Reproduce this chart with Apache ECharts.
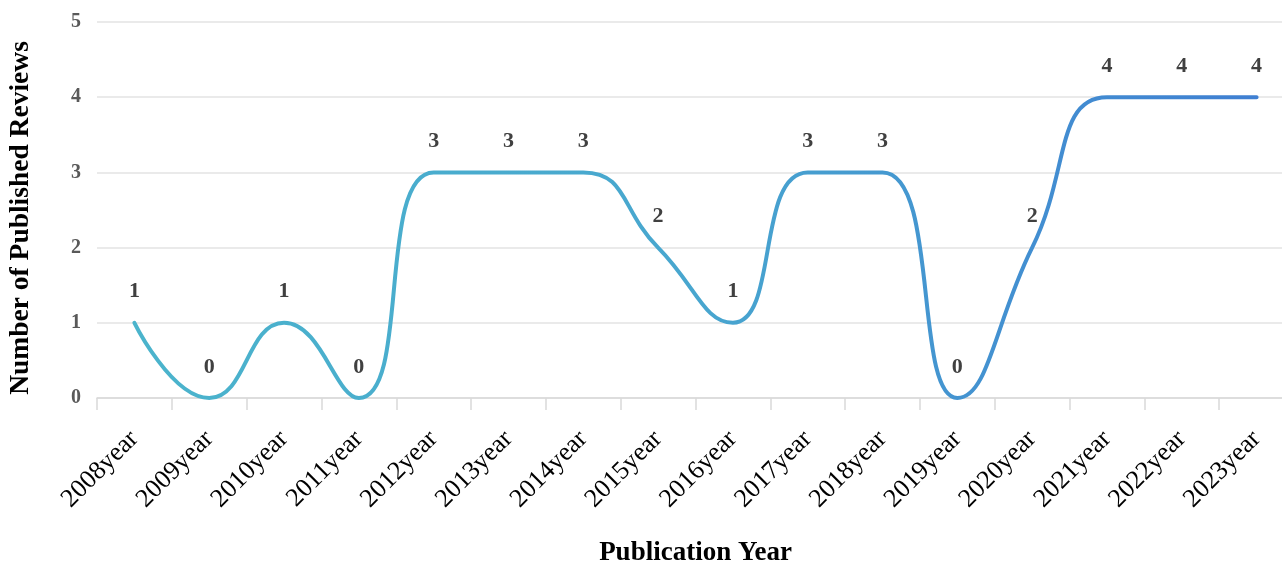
<!DOCTYPE html>
<html><head><meta charset="utf-8">
<script src="https://cdn.jsdelivr.net/npm/echarts@6/dist/echarts.min.js"></script>
<style>html,body{margin:0;padding:0;background:#fff}#c{width:1282px;height:562px}</style>
</head><body><div id="c"></div>
<script>
const years = ['2008year','2009year','2010year','2011year','2012year','2013year','2014year','2015year','2016year','2017year','2018year','2019year','2020year','2021year','2022year','2023year'];
const reviews = [1,0,1,0,3,3,3,2,1,3,3,0,2,4,4,4];
const yTicks = {min:0, max:5, interval:1};
const serif = '"Liberation Serif","Times New Roman",serif';
const chart = echarts.init(document.getElementById('c'));
chart.setOption({
  animation:false,
  grid:{left:97, right:-12, top:22, bottom:164, containLabel:false, outerBoundsMode:'none'},
  xAxis:{
    type:'category', data:years, boundaryGap:true,
    name:'Publication Year', nameLocation:'middle', nameGap:142,
    nameTextStyle:{fontFamily:serif, fontWeight:'bold', fontSize:27, color:'#000'},
    axisLine:{lineStyle:{color:'#d9d9d9', width:1.5}},
    axisTick:{show:true, length:12, lineStyle:{color:'#d9d9d9', width:1.5}},
    axisLabel:{rotate:45, fontFamily:serif, fontSize:26, color:'#000', margin:37, interval:0}
  },
  yAxis:{
    type:'value', min:yTicks.min, max:yTicks.max, interval:yTicks.interval,
    name:'Number of Published Reviews', nameLocation:'middle', nameGap:62,
    nameTextStyle:{fontFamily:serif, fontWeight:'bold', fontSize:27.5, color:'#000', padding:[0,16,0,0]},
    axisLine:{show:false}, axisTick:{show:false},
    axisLabel:{fontFamily:serif, fontWeight:'bold', fontSize:20, color:'#595959', margin:16},
    splitLine:{lineStyle:{color:'#e3e3e3', width:1.5}}
  },
  series:[{
    type:'line', data:reviews, smooth:0.5, showSymbol:true, symbol:'circle', symbolSize:2,
    itemStyle:{color:'rgba(0,0,0,0)', borderWidth:0},
    lineStyle:{width:4, cap:'round', color:{type:'linear', x:0, y:0, x2:1, y2:0, colorStops:[
      {offset:0, color:'#4bb4cc'}, {offset:0.5, color:'#48a6cf'}, {offset:1, color:'#3f7fd2'}]}},
    label:{show:true, position:'top', distance:19, fontFamily:serif, fontWeight:'bold', fontSize:22, color:'#404040'}
  }]
});
</script></body></html>
